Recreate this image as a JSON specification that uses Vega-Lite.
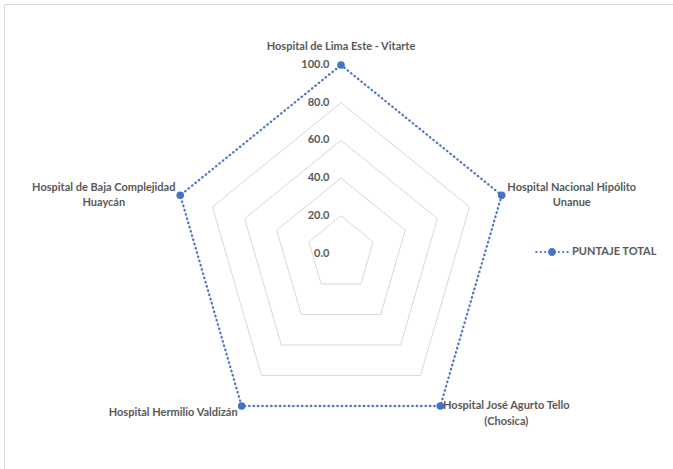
{
  "$schema": "https://vega.github.io/schema/vega-lite/v6.json",
  "width": 669,
  "height": 465,
  "autosize": {"type": "none"},
  "padding": {"left": 4, "top": 4, "right": 0, "bottom": 0},
  "background": "white",
  "config": {
    "view": {"stroke": "#d9d9d9", "strokeWidth": 1},
    "text": {"font": "Lato", "fontWeight": "bold", "fontSize": 11, "fill": "#595959"}
  },
  "datasets": {
    "hospitals": [
      {"k": 0, "hospital": "Hospital de Lima Este - Vitarte", "puntaje": 100.0, "serie": "PUNTAJE TOTAL"},
      {"k": 1, "hospital": "Hospital Nacional Hipólito\nUnanue", "puntaje": 100.0, "serie": "PUNTAJE TOTAL"},
      {"k": 2, "hospital": "Hospital José Agurto Tello\n(Chosica)", "puntaje": 100.0, "serie": "PUNTAJE TOTAL"},
      {"k": 3, "hospital": "Hospital Hermilio Valdizán", "puntaje": 100.0, "serie": "PUNTAJE TOTAL"},
      {"k": 4, "hospital": "Hospital de Baja Complejidad\nHuaycán", "puntaje": 100.0, "serie": "PUNTAJE TOTAL"}
    ],
    "grid": [
      {"r": 20, "k": 0}, {"r": 20, "k": 1}, {"r": 20, "k": 2}, {"r": 20, "k": 3}, {"r": 20, "k": 4},
      {"r": 40, "k": 0}, {"r": 40, "k": 1}, {"r": 40, "k": 2}, {"r": 40, "k": 3}, {"r": 40, "k": 4},
      {"r": 60, "k": 0}, {"r": 60, "k": 1}, {"r": 60, "k": 2}, {"r": 60, "k": 3}, {"r": 60, "k": 4},
      {"r": 80, "k": 0}, {"r": 80, "k": 1}, {"r": 80, "k": 2}, {"r": 80, "k": 3}, {"r": 80, "k": 4},
      {"r": 100, "k": 0}, {"r": 100, "k": 1}, {"r": 100, "k": 2}, {"r": 100, "k": 3}, {"r": 100, "k": 4}
    ],
    "ticks": [{"r": 0}, {"r": 20}, {"r": 40}, {"r": 60}, {"r": 80}, {"r": 100}]
  },
  "layer": [
    {
      "data": {"name": "grid"},
      "transform": [
        {"calculate": "datum.r * sin(datum.k * 2 * PI / 5)", "as": "px"},
        {"calculate": "datum.r * cos(datum.k * 2 * PI / 5)", "as": "py"}
      ],
      "mark": {"type": "line", "interpolate": "linear-closed", "stroke": "#d9d9d9", "strokeWidth": 1},
      "encoding": {
        "x": {"field": "px", "type": "quantitative", "scale": {"domain": [-199.4, 196.45], "nice": false, "zero": false}, "axis": null},
        "y": {"field": "py", "type": "quantitative", "scale": {"domain": [-114.32, 132.36], "nice": false, "zero": false}, "axis": null},
        "detail": {"field": "r", "type": "nominal"},
        "order": {"field": "k", "type": "quantitative"}
      }
    },
    {
      "data": {"name": "ticks"},
      "transform": [
        {"calculate": "0", "as": "px"},
        {"calculate": "datum.r", "as": "py"}
      ],
      "mark": {"type": "text", "align": "right", "baseline": "middle", "dx": -11.5},
      "encoding": {
        "x": {"field": "px", "type": "quantitative", "scale": {"domain": [-199.4, 196.45], "nice": false, "zero": false}, "axis": null},
        "y": {"field": "py", "type": "quantitative", "scale": {"domain": [-114.32, 132.36], "nice": false, "zero": false}, "axis": null},
        "text": {"field": "r", "type": "quantitative", "format": ".1f"}
      }
    },
    {
      "data": {"name": "hospitals"},
      "transform": [
        {"calculate": "datum.puntaje * sin(datum.k * 2 * PI / 5)", "as": "px"},
        {"calculate": "datum.puntaje * cos(datum.k * 2 * PI / 5)", "as": "py"}
      ],
      "encoding": {
        "x": {"field": "px", "type": "quantitative", "scale": {"domain": [-199.4, 196.45], "nice": false, "zero": false}, "axis": null},
        "y": {"field": "py", "type": "quantitative", "scale": {"domain": [-114.32, 132.36], "nice": false, "zero": false}, "axis": null}
      },
      "layer": [
        {
          "mark": {"type": "line", "interpolate": "linear-closed", "strokeWidth": 2.4, "strokeDash": [0.01, 4.4], "strokeCap": "round"},
          "encoding": {
            "order": {"field": "k", "type": "quantitative"},
            "color": {
              "field": "serie", "type": "nominal",
              "scale": {"range": ["#4472C4"]},
              "legend": {
                "orient": "none", "legendX": 531, "legendY": 231, "title": null, "padding": 0,
                "symbolType": "M-0.985,0a0.065,0.065 0 1,0 0.13,0a0.065,0.065 0 1,0 -0.13,0M-0.725,0a0.065,0.065 0 1,0 0.13,0a0.065,0.065 0 1,0 -0.13,0M-0.465,0a0.065,0.065 0 1,0 0.13,0a0.065,0.065 0 1,0 -0.13,0M0.335,0a0.065,0.065 0 1,0 0.13,0a0.065,0.065 0 1,0 -0.13,0M0.595,0a0.065,0.065 0 1,0 0.13,0a0.065,0.065 0 1,0 -0.13,0M0.855,0a0.065,0.065 0 1,0 0.13,0a0.065,0.065 0 1,0 -0.13,0M-0.235,0a0.235,0.235 0 1,0 0.47,0a0.235,0.235 0 1,0 -0.47,0",
                "symbolSize": 1156,
                "labelFont": "Lato", "labelFontWeight": "bold", "labelFontSize": 11, "labelColor": "#595959", "labelOffset": 3,
                "encode": {"symbols": {"update": {"fill": {"value": "#4472C4"}, "stroke": {"value": "transparent"}, "strokeWidth": {"value": 0}, "opacity": {"value": 1}}}}
              }
            }
          }
        },
        {
          "mark": {"type": "point", "filled": true, "shape": "circle", "size": 58, "opacity": 1},
          "encoding": {
            "color": {"field": "serie", "type": "nominal", "scale": {"range": ["#4472C4"]}}
          }
        },
        {
          "transform": [{"filter": "datum.k == 0"}],
          "mark": {"type": "text", "align": "center", "baseline": "middle", "dy": -18, "lineBreak": "\n", "lineHeight": 15.5},
          "encoding": {"text": {"field": "hospital", "type": "nominal"}}
        },
        {
          "transform": [{"filter": "datum.k == 1"}],
          "mark": {"type": "text", "align": "center", "baseline": "middle", "dx": 70, "dy": -7.5, "lineBreak": "\n", "lineHeight": 15},
          "encoding": {"text": {"field": "hospital", "type": "nominal"}}
        },
        {
          "transform": [{"filter": "datum.k == 2"}],
          "mark": {"type": "text", "align": "center", "baseline": "middle", "dx": 66, "dy": 0, "lineBreak": "\n", "lineHeight": 16},
          "encoding": {"text": {"field": "hospital", "type": "nominal"}}
        },
        {
          "transform": [{"filter": "datum.k == 3"}],
          "mark": {"type": "text", "align": "right", "baseline": "middle", "dx": -4, "dy": 7, "lineBreak": "\n", "lineHeight": 15.5},
          "encoding": {"text": {"field": "hospital", "type": "nominal"}}
        },
        {
          "transform": [{"filter": "datum.k == 4"}],
          "mark": {"type": "text", "align": "center", "baseline": "middle", "dx": -76.5, "dy": -7.5, "lineBreak": "\n", "lineHeight": 15},
          "encoding": {"text": {"field": "hospital", "type": "nominal"}}
        }
      ]
    }
  ]
}
